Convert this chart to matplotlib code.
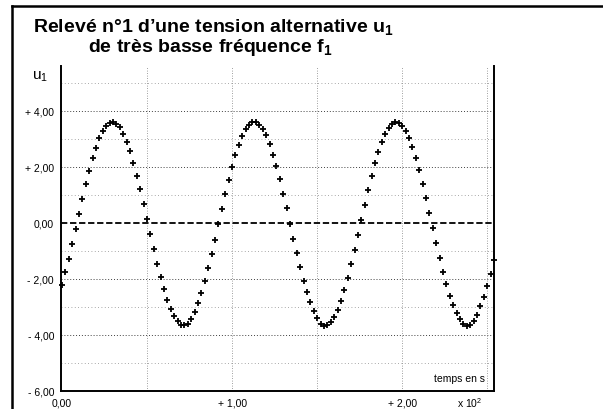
import matplotlib.pyplot as plt
from matplotlib.lines import Line2D

plt.rcParams['font.family'] = ['Liberation Sans', 'DejaVu Sans']
plt.rcParams['mathtext.fontset'] = 'custom'
plt.rcParams['mathtext.rm'] = 'Liberation Sans'
plt.rcParams['mathtext.it'] = 'Liberation Sans'
plt.rcParams['mathtext.bf'] = 'Liberation Sans:bold'

# sampling times in seconds (axis is graduated in units of 10^2 s)
times = [0, 2, 4, 6, 8, 10, 12, 14, 16, 18, 20, 22, 24, 26, 28, 30,
         32, 34, 36, 38, 40, 42, 44, 46, 48, 50, 52, 54, 56, 58, 60, 62,
         64, 66, 68, 70, 72, 74, 76, 78, 80, 82, 84, 86, 88, 90, 92, 94,
         96, 98, 100, 102, 104, 106, 108, 110, 112, 114, 116, 118, 120, 122,
         124, 126, 128, 130, 132, 134, 136, 138, 140, 142, 144, 146, 148,
         150, 152, 154, 156, 158, 160, 162, 164, 166, 168, 170, 172, 174,
         176, 178, 180, 182, 184, 186, 188, 190, 192, 194, 196, 198, 200,
         202, 204, 206, 208, 210, 212, 214, 216, 218, 220, 222, 224, 226,
         228, 230, 232, 234, 236, 238, 240, 242, 244, 246, 248, 250, 252, 254]

# measured voltage u1 (V)
u1 = [-2.21, -1.76, -1.28, -0.75, -0.22, 0.33, 0.86, 1.38, 1.86, 2.30,
      2.69, 3.02, 3.27, 3.46, 3.57, 3.60, 3.54, 3.41, 3.19, 2.90,
      2.56, 2.15, 1.69, 1.20, 0.67, 0.14, -0.41, -0.94, -1.45, -1.93,
      -2.36, -2.74, -3.06, -3.31, -3.50, -3.64, -3.66, -3.60, -3.42, -3.18,
      -2.86, -2.50, -2.08, -1.62, -1.12, -0.60, -0.05, 0.49, 1.02, 1.52,
      2.00, 2.42, 2.79, 3.11, 3.34, 3.51, 3.59, 3.59, 3.51, 3.35,
      3.12, 2.81, 2.44, 2.02, 1.55, 1.04, 0.52, -0.03, -0.57, -1.09,
      -1.59, -2.06, -2.48, -2.84, -3.14, -3.39, -3.60, -3.68, -3.66, -3.55,
      -3.35, -3.10, -2.77, -2.38, -1.95, -1.47, -0.96, -0.43, 0.11, 0.65,
      1.17, 1.67, 2.13, 2.54, 2.89, 3.18, 3.40, 3.54, 3.60, 3.57,
      3.47, 3.29, 3.03, 2.70, 2.32, 1.88, 1.40, 0.88, 0.35, -0.19,
      -0.73, -1.25, -1.74, -2.19, -2.60, -2.94, -3.22, -3.44, -3.60, -3.67,
      -3.63, -3.50, -3.27, -2.98, -2.65, -2.25, -1.81, -1.33]

y_ticks = [-6, -4, -2, 0, 2, 4]
y_labels = ['- 6,00', '- 4,00', '- 2,00', '0,00', '+ 2,00', '+ 4,00']
x_ticks = [0, 1, 2]
x_labels = ['0,00', '+ 1,00', '+ 2,00']
minor_y = [-5, -4, -3, -2, -1, 1, 2, 3, 4, 5]
minor_x = [0.5, 1.0, 1.5, 2.0, 2.5]


def main():
    fig = plt.figure(figsize=(6.03, 4.10), dpi=100)
    W, H = 603, 410
    ax = fig.add_axes([61 / W, 1 - 392 / H, (494 - 61) / W, (392 - 67) / H])

    # grid
    for y in minor_y:
        if y % 2 == 0:
            ax.axhline(y, color='0.25', lw=0.7, ls=(0, (1, 2)), zorder=1)
        else:
            ax.axhline(y, color='0.55', lw=0.6, ls=(0, (1, 3)), zorder=1)
    for x in minor_x:
        ax.axvline(x, color='0.5', lw=0.6, ls=(0, (1, 2)), zorder=1)
    ax.axhline(0, color='black', lw=1.3, ls=(0, (3.5, 1.5)), zorder=2)

    ax.plot([t / 100 for t in times], u1, '+', color='black',
            ms=4.5, mew=1.3, zorder=3, clip_on=False)

    ax.set_xlim(-0.006, 2.54)
    ax.set_ylim(-6, 5.6)
    ax.set_yticks(y_ticks, y_labels)
    ax.set_xticks(x_ticks, x_labels)
    ax.tick_params(length=0, labelsize=7.5)
    ax.tick_params(axis='y', pad=5)
    ax.tick_params(axis='x', pad=5)

    ax.spines['top'].set_visible(False)
    for side in ['left', 'bottom', 'right']:
        ax.spines[side].set_linewidth(1.4)
        ax.spines[side].set_color('black')

    ax.text(2.49, -5.55, 'temps en s', ha='right', va='center', fontsize=7.5)
    fig.text(470 / W, 1 - 403 / H, 'x 10$^2$', ha='center', va='center',
             fontsize=7.5)
    fig.text(40 / W, 1 - 77 / H, 'u$_1$', ha='center', va='center',
             fontsize=11)

    # title
    fig.text(33 / W, 1 - 27 / H,
             'Relevé n°1 d’une tension alternative $\\mathbf{u_1}$',
             fontsize=14, weight='bold', va='center')
    fig.text(88 / W, 1 - 48 / H, 'de très basse fréquence $\\mathbf{f_1}$',
             fontsize=14, weight='bold', va='center')

    # frame of the scanned page
    fig.add_artist(Line2D([12 / W, 12 / W], [0, 1 - 7 / H],
                          transform=fig.transFigure, color='black', lw=1.8))
    fig.add_artist(Line2D([12 / W, 1], [1 - 7 / H, 1 - 7 / H],
                          transform=fig.transFigure, color='black', lw=1.8))

    fig.savefig('out.png', dpi=100)


if __name__ == "__main__":
    main()
